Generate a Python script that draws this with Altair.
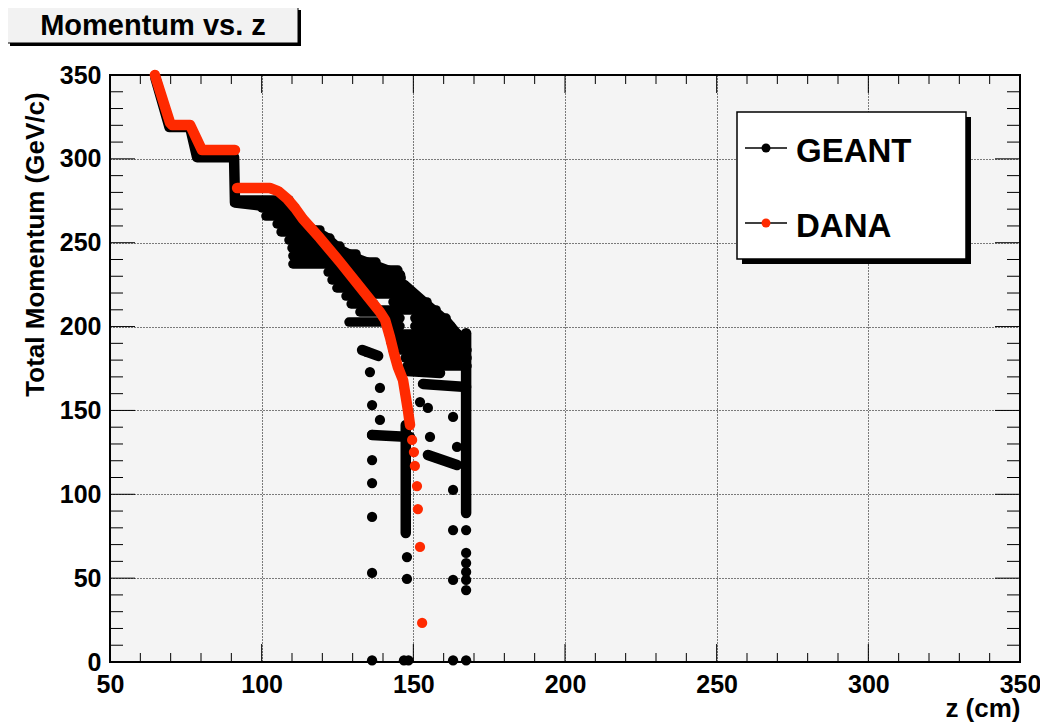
import altair as alt
import pandas as pd

# ---------------- axis ticks ----------------
x_major = [50, 100, 150, 200, 250, 300, 350]
x_minor = [60, 70, 80, 90, 110, 120, 130, 140, 160, 170, 180, 190, 210, 220, 230, 240,
           260, 270, 280, 290, 310, 320, 330, 340]
y_major = [0, 50, 100, 150, 200, 250, 300, 350]
y_minor = [10, 20, 30, 40, 60, 70, 80, 90, 110, 120, 130, 140, 160, 170, 180, 190,
           210, 220, 230, 240, 260, 270, 280, 290, 310, 320, 330, 340]

# ---------------- GEANT (black) ----------------
# runs of densely packed markers along a path: (z values, p values)
geant_runs = {
    "G1": ([65.0, 69.6, 76.4, 78.7, 90.9, 91.2, 100.1], [348, 319, 319, 301, 301, 274, 272]),
    "U1": ([115.9, 121.5, 125.8, 132.4, 141.3, 145.6], [258.8, 252.8, 245.7, 239.7, 233.7, 230.8]),
    "U2": ([147.0, 154.5, 161.1, 166.0], [224.8, 212.9, 202.7, 192.0]),
    "C1": ([167.4, 167.4], [196.0, 88.8]),
    "G11": ([136.4, 148.9], [135.4, 134.2]),
    "G12": ([154.8, 164.4], [123.4, 117.5]),
    "G13": ([147.5, 147.5], [141.3, 76.9]),
    "G14": ([133.1, 138.4], [186.0, 182.5]),
    "U6": ([147.9, 158.8], [173.5, 172.3]),
    "U7": ([153.2, 167.4], [165.8, 164.0]),
}
# nearly flat rows of markers filling the dense band: momentum, z start, z end
band_p = [257.6, 252.8, 248.0, 243.3, 238.5, 233.7, 229.0, 224.2, 219.4, 214.7, 209.9,
          205.1, 205.1, 200.3, 200.3, 195.6, 190.8, 186.0, 181.3, 176.5,
          275.5, 270.7, 265.9, 261.2, 256.4, 251.6, 246.9, 242.1, 237.3, 232.5, 227.8,
          223.0, 218.2, 213.5, 208.7, 202.7]
band_z0 = [116.9, 119.2, 121.5, 123.5, 125.8, 127.8, 130.1, 132.1, 134.4, 143.3, 138.4,
           140.0, 150.5, 141.3, 150.5, 142.0, 142.6, 143.3, 147.3, 147.9,
           91.5, 100.1, 101.4, 105.1, 106.4, 109.0, 110.0, 110.3, 110.3, 121.9, 123.2,
           124.8, 127.8, 129.5, 132.4, 128.8]
band_z1 = [119.2, 122.5, 125.8, 131.1, 137.7, 144.9, 146.0, 146.9, 148.2, 154.5, 157.5,
           145.6, 160.8, 145.6, 162.4, 164.7, 167.0, 167.7, 167.7, 167.7,
           109.0, 111.0, 112.6, 114.6, 117.3, 119.6, 121.5, 123.8, 125.8, 128.8, 131.1,
           132.7, 134.7, 137.0, 138.7, 139.7]
# isolated GEANT markers
geant_dot_z = [134.7, 135.7, 139.0, 136.4, 139.0, 136.4, 136.4, 136.4, 136.4, 136.4, 136.4,
               147.9, 147.9, 146.9, 148.4,
               163.1, 164.4, 163.1, 163.1, 163.1, 163.1,
               167.4, 167.4, 167.4, 167.4, 167.4, 167.4, 167.4,
               155.5, 152.2, 154.8]
geant_dot_p = [184.9, 172.9, 163.4, 153.2, 144.3, 135.4, 120.4, 106.7, 86.5, 53.1, 1.0,
               62.6, 49.5, 1.0, 1.0,
               146.1, 128.2, 102.6, 78.7, 48.9, 1.0,
               78.7, 65.0, 59.0, 53.7, 48.9, 42.9, 1.0,
               134.2, 155.0, 151.5]

# ---------------- DANA (red) ----------------
dana_runs = {
    "D1": ([64.8, 69.8, 70.5, 76.4, 80.3, 91.2], [350.0, 321.5, 320.2, 320.2, 305.3, 305.3]),
    "D2": ([91.9, 102.7, 105.4, 108.4, 111.0, 113.6, 119.2, 125.8, 132.4, 139.0, 140.7, 142.3, 143.6,
            144.9, 146.6, 148.2, 148.9],
           [282.6, 282.6, 280.8, 276.2, 270.7, 264.1, 252.8, 238.5, 223.6, 208.7, 203.9, 193.8, 184.2,
            175.9, 168.1, 150.3, 141.3]),
}
dana_dot_z = [149.6, 150.2, 150.5, 151.2, 151.5, 152.2, 152.9]
dana_dot_p = [132.4, 125.2, 116.9, 104.9, 91.2, 68.6, 23.3]


def runs_frame(runs):
    rows = []
    for name, (zs, ps) in runs.items():
        for i, (z, p) in enumerate(zip(zs, ps)):
            rows.append({"run": name, "i": i, "z": z, "p": p})
    return pd.DataFrame(rows)


geant_lines = runs_frame(geant_runs)
geant_band = pd.DataFrame({"p": band_p, "z": band_z0, "z2": band_z1})
dana_lines = runs_frame(dana_runs)
geant_dots = pd.DataFrame({"z": geant_dot_z, "p": geant_dot_p})
dana_dots = pd.DataFrame({"z": dana_dot_z, "p": dana_dot_p})

# ---------------- style ----------------
FONT = "Liberation Sans"
RED = "#ff2a00"
W, H = 910, 587
MARK = 105
LW = 10.5

xs = alt.Scale(domain=[50, 350], nice=False, zero=False)
ys = alt.Scale(domain=[0, 350], nice=False, zero=False)

xaxis = alt.Axis(values=x_major, title="z (cm)", ticks=False, domain=False, grid=True,
                 gridColor="#000000", gridDash=[1, 2], gridWidth=1, gridOpacity=1,
                 labelFont=FONT, labelFontWeight="bold", labelFontSize=25, labelColor="#000000",
                 labelPadding=10, labelFlush=False, labelOverlap=False, format="d",
                 titleFont=FONT, titleFontWeight="bold", titleFontSize=26, titleColor="#000000",
                 titleX=W, titleY=54, titleAlign="right", titleBaseline="alphabetic")
yaxis = alt.Axis(values=y_major, title="Total Momentum (GeV/c)", ticks=False, domain=False, grid=True,
                 gridColor="#000000", gridDash=[1, 2], gridWidth=1, gridOpacity=1,
                 labelFont=FONT, labelFontWeight="bold", labelFontSize=25, labelColor="#000000",
                 labelPadding=9, labelFlush=False, labelOverlap=False, format="d",
                 titleFont=FONT, titleFontWeight="bold", titleFontSize=26, titleColor="#000000",
                 titleX=-75, titleY=169, titleAngle=270, titleAlign="center", titleBaseline="middle")


def X(f):
    return alt.X(f, type="quantitative", scale=xs, axis=xaxis)


def Y(f):
    return alt.Y(f, type="quantitative", scale=ys, axis=yaxis)


one = pd.DataFrame({"k": [0]})
layers = []

# ticks (inside the frame, on all four sides)
xmaj = pd.DataFrame({"z": x_major})
xmin = pd.DataFrame({"z": x_minor})
ymaj = pd.DataFrame({"p": y_major})
ymin = pd.DataFrame({"p": y_minor})
for df, ln in ((xmaj, 18), (xmin, 9)):
    layers.append(alt.Chart(df).mark_rule(color="black", strokeWidth=1).encode(
        x=X("z"), y=alt.value(H), y2=alt.value(H - ln)))
    layers.append(alt.Chart(df).mark_rule(color="black", strokeWidth=1).encode(
        x=X("z"), y=alt.value(0), y2=alt.value(ln)))
for df, ln in ((ymaj, 25), (ymin, 13)):
    layers.append(alt.Chart(df).mark_rule(color="black", strokeWidth=1).encode(
        y=Y("p"), x=alt.value(0), x2=alt.value(ln)))
    layers.append(alt.Chart(df).mark_rule(color="black", strokeWidth=1).encode(
        y=Y("p"), x=alt.value(W), x2=alt.value(W - ln)))

# data
layers.append(alt.Chart(geant_band).mark_rule(color="black", strokeWidth=9.5, strokeCap="round").encode(
    x=X("z"), x2="z2:Q", y=Y("p")))
layers.append(alt.Chart(geant_lines).mark_line(color="black", strokeWidth=LW, strokeCap="round",
                                                strokeJoin="round").encode(
    x=X("z"), y=Y("p"), detail="run:N", order="i:Q"))
layers.append(alt.Chart(geant_dots).mark_circle(color="black", size=MARK, opacity=1).encode(
    x=X("z"), y=Y("p")))
layers.append(alt.Chart(dana_lines).mark_line(color=RED, strokeWidth=LW, strokeCap="round",
                                               strokeJoin="round").encode(
    x=X("z"), y=Y("p"), detail="run:N", order="i:Q"))
layers.append(alt.Chart(dana_dots).mark_circle(color=RED, size=MARK, opacity=1).encode(
    x=X("z"), y=Y("p")))

# title box
layers.append(alt.Chart(one).mark_rect(color="black").encode(
    x=alt.value(-100), x2=alt.value(191), y=alt.value(-65), y2=alt.value(-29)))
layers.append(alt.Chart(one).mark_rect(fill="#f2f2f2", stroke="black", strokeWidth=1).encode(
    x=alt.value(-103), x2=alt.value(188), y=alt.value(-68), y2=alt.value(-32)))
layers.append(alt.Chart(one).mark_text(text="Momentum vs. z", font=FONT, fontWeight="bold", fontSize=29,
                                       align="center", baseline="alphabetic", color="black").encode(
    x=alt.value(43), y=alt.value(-40)))

# legend
layers.append(alt.Chart(one).mark_rect(color="black").encode(
    x=alt.value(632), x2=alt.value(861), y=alt.value(42), y2=alt.value(189)))
layers.append(alt.Chart(one).mark_rect(fill="white", stroke="black", strokeWidth=1.5).encode(
    x=alt.value(627), x2=alt.value(856), y=alt.value(37), y2=alt.value(184)))
for ly, col, label, base in ((73, "black", "GEANT", 87), (148, RED, "DANA", 162)):
    layers.append(alt.Chart(one).mark_rule(color="black", strokeWidth=1.5).encode(
        x=alt.value(635), x2=alt.value(677), y=alt.value(ly)))
    layers.append(alt.Chart(one).mark_circle(color=col, size=80, opacity=1).encode(
        x=alt.value(656), y=alt.value(ly)))
    layers.append(alt.Chart(one).mark_text(text=label, font=FONT, fontWeight="bold", fontSize=33,
                                           align="left", baseline="alphabetic", color="black").encode(
        x=alt.value(686), y=alt.value(base)))

chart = alt.layer(*layers).properties(
    width=W, height=H,
    autosize=alt.AutoSizeParams(type="none"),
    padding={"left": 102, "top": 67, "right": 20, "bottom": 60},
).configure(background="white").configure_view(fill="#f4f4f4", stroke="black", strokeWidth=2)

chart.save("out.html", embed_options={"renderer": "svg", "actions": False})
